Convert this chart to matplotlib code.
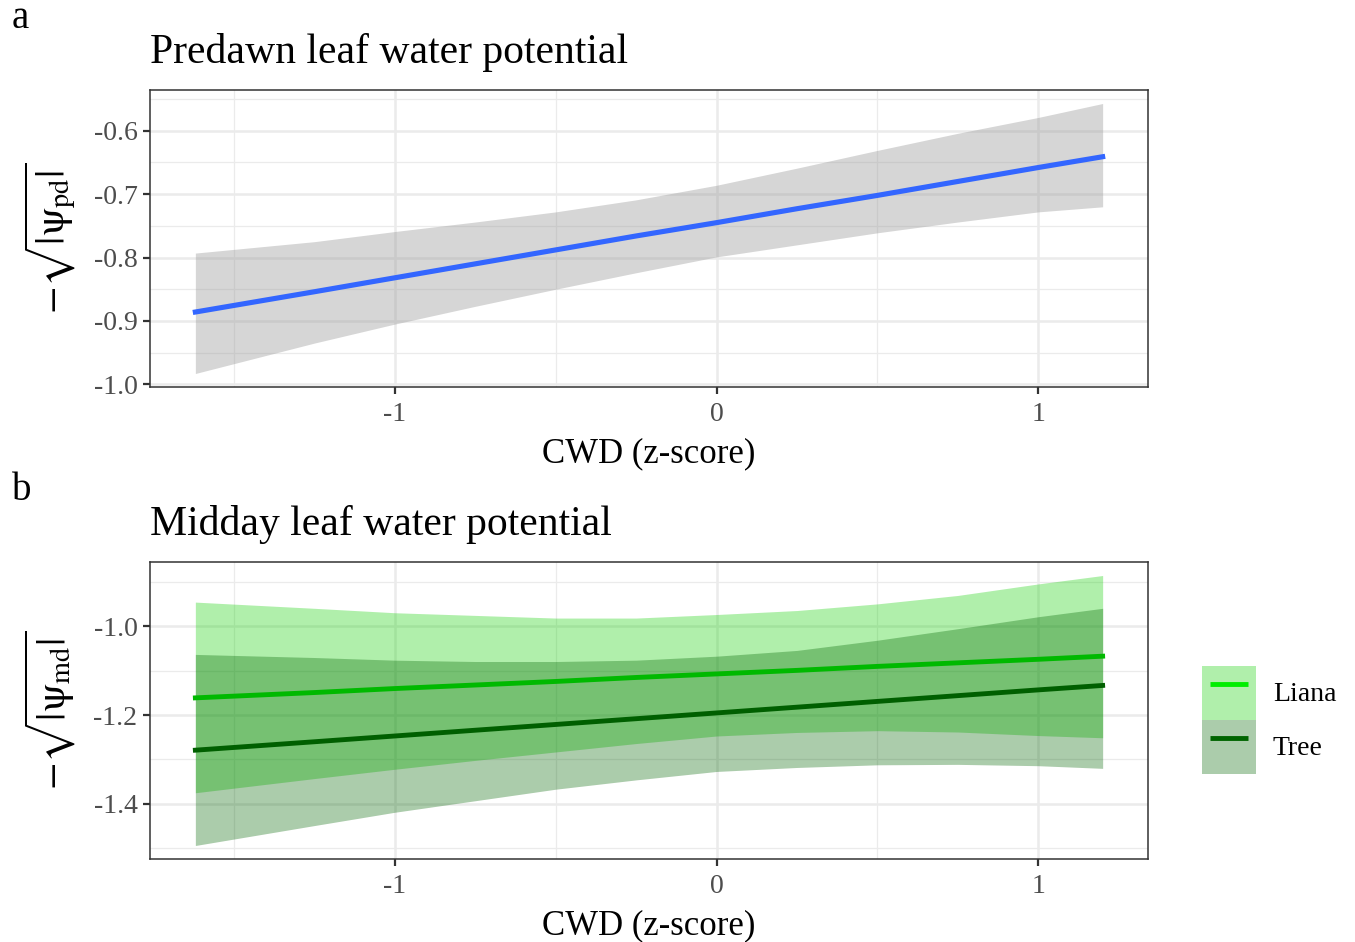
import matplotlib
matplotlib.use('Agg')
import matplotlib.pyplot as plt
from matplotlib.patches import Patch
from matplotlib.lines import Line2D

plt.rcParams['font.family'] = ['Liberation Serif', 'DejaVu Serif']
plt.rcParams['mathtext.fontset'] = 'stix'
plt.rcParams['axes.unicode_minus'] = False

# Model predictions along the CWD gradient
cwd = [-1.62, -1.25, -1.0, -0.75, -0.5, -0.25, 0.0, 0.25, 0.5, 0.75, 1.0, 1.2]

pd_fit = [-0.886, -0.854, -0.832, -0.810, -0.788, -0.766,
          -0.745, -0.723, -0.702, -0.680, -0.658, -0.641]
pd_upper = [-0.793, -0.775, -0.759, -0.744, -0.728, -0.709,
            -0.686, -0.659, -0.631, -0.604, -0.579, -0.557]
pd_lower = [-0.983, -0.935, -0.905, -0.877, -0.850, -0.824,
            -0.799, -0.780, -0.761, -0.744, -0.728, -0.720]

liana_fit = [-1.161, -1.149, -1.140, -1.132, -1.124, -1.115,
             -1.107, -1.099, -1.090, -1.082, -1.074, -1.067]
liana_upper = [-0.945, -0.959, -0.969, -0.975, -0.981, -0.981,
               -0.973, -0.964, -0.949, -0.930, -0.904, -0.885]
liana_lower = [-1.375, -1.343, -1.322, -1.302, -1.283, -1.264,
               -1.247, -1.239, -1.235, -1.238, -1.246, -1.251]

tree_fit = [-1.279, -1.260, -1.247, -1.234, -1.221, -1.208,
            -1.195, -1.182, -1.169, -1.156, -1.143, -1.133]
tree_upper = [-1.063, -1.070, -1.076, -1.079, -1.079, -1.076,
              -1.067, -1.054, -1.031, -1.005, -0.978, -0.959]
tree_lower = [-1.494, -1.449, -1.419, -1.393, -1.367, -1.346,
              -1.327, -1.318, -1.312, -1.311, -1.314, -1.320]

groups = ['Liana', 'Tree']
x_ticks = [-1, 0, 1]
pd_ticks = [-1.0, -0.9, -0.8, -0.7, -0.6]
md_ticks = [-1.4, -1.2, -1.0]

LIANA_FILL = '#10D100'
TREE_FILL = '#006400'

W, H = 1355, 942
fig = plt.figure(figsize=(W / 100, H / 100), dpi=100)
ax_a = fig.add_axes([150 / W, 1 - 387 / H, 998 / W, 297 / H])
ax_b = fig.add_axes([150 / W, 1 - 859 / H, 998 / W, 297 / H])


def style_axis(ax, yticks, lo, hi, ylabel):
    ax.set_xticks(x_ticks)
    ax.set_xticklabels([str(v) for v in x_ticks])
    ax.set_yticks(yticks)
    ax.set_yticklabels([f'{v:.1f}' for v in yticks])
    ax.set_xticks([-1.5, -0.5, 0.5, 1.5], minor=True)
    ys = yticks[1] - yticks[0]
    yminor = [yticks[0] - ys / 2] + [v + ys / 2 for v in yticks]
    ax.set_yticks(yminor, minor=True)
    # limits last, so the minor ticks don't stretch the view
    xr = max(cwd) - min(cwd)
    ax.set_xlim(min(cwd) - 0.05 * xr, max(cwd) + 0.05 * xr)
    yr = hi - lo
    ax.set_ylim(lo - 0.05 * yr, hi + 0.05 * yr)
    ax.tick_params(which='minor', length=0)
    ax.tick_params(which='major', length=5, width=1.6, color='#333333',
                   labelsize=20, labelcolor='#4D4D4D', pad=4)
    ax.tick_params(axis='x', which='major', pad=6)
    ax.grid(which='major', color='#EBEBEB', lw=1.8, zorder=0)
    ax.grid(which='minor', color='#EBEBEB', lw=0.9, zorder=0)
    ax.set_axisbelow(True)
    for s in ax.spines.values():
        s.set_color('#333333')
        s.set_linewidth(1.1)
    ax.set_xlabel('CWD (z-score)', fontsize=25, labelpad=7)
    ax.set_ylabel(ylabel, fontsize=29, labelpad=11)


# a: predawn
ax_a.fill_between(cwd, pd_lower, pd_upper, color='#999999', alpha=0.4,
                  lw=0, zorder=2)
ax_a.plot(cwd, pd_fit, color='#3366FF', lw=3.7, zorder=3)
style_axis(ax_a, pd_ticks, min(pd_lower), max(pd_upper),
           r'$-\sqrt{|\mathrm{\psi}_{\mathrm{pd}}|}$')

# b: midday, liana vs tree
ax_b.fill_between(cwd, liana_lower, liana_upper, color=LIANA_FILL, alpha=0.33,
                  lw=0, zorder=2)
ax_b.fill_between(cwd, tree_lower, tree_upper, color=TREE_FILL, alpha=0.33,
                  lw=0, zorder=2)
ax_b.plot(cwd, liana_fit, color='#00B900', lw=3.5, zorder=3)
ax_b.plot(cwd, tree_fit, color='#005F00', lw=3.5, zorder=3)
style_axis(ax_b, md_ticks, min(tree_lower), max(liana_upper),
           r'$-\sqrt{|\mathrm{\psi}_{\mathrm{md}}|}$')

handles = [
    (Patch(facecolor=LIANA_FILL, alpha=0.33, lw=0),
     Line2D([], [], color='#00EE00', lw=3.5, solid_capstyle='butt')),
    (Patch(facecolor=TREE_FILL, alpha=0.33, lw=0),
     Line2D([], [], color='#006400', lw=3.5, solid_capstyle='butt')),
]
fig.legend(handles, groups, loc='center left', numpoints=2,
           bbox_to_anchor=(1202 / W, 1 - 720 / H), bbox_transform=fig.transFigure,
           frameon=False, fontsize=20, handlelength=1.95, handleheight=2.61,
           labelspacing=0, borderpad=0, borderaxespad=0, handletextpad=0.6)

# titles and panel tags
fig.text(150 / W, 1 - 63 / H, 'Predawn leaf water potential', fontsize=30,
         va='baseline', ha='left')
fig.text(150 / W, 1 - 535 / H, 'Midday leaf water potential', fontsize=30,
         va='baseline', ha='left')
fig.text(12 / W, 1 - 28 / H, 'a', fontsize=28, va='baseline', ha='left')
fig.text(12 / W, 1 - 500 / H, 'b', fontsize=28, va='baseline', ha='left')

fig.savefig('out.png', dpi=100, facecolor='white')
